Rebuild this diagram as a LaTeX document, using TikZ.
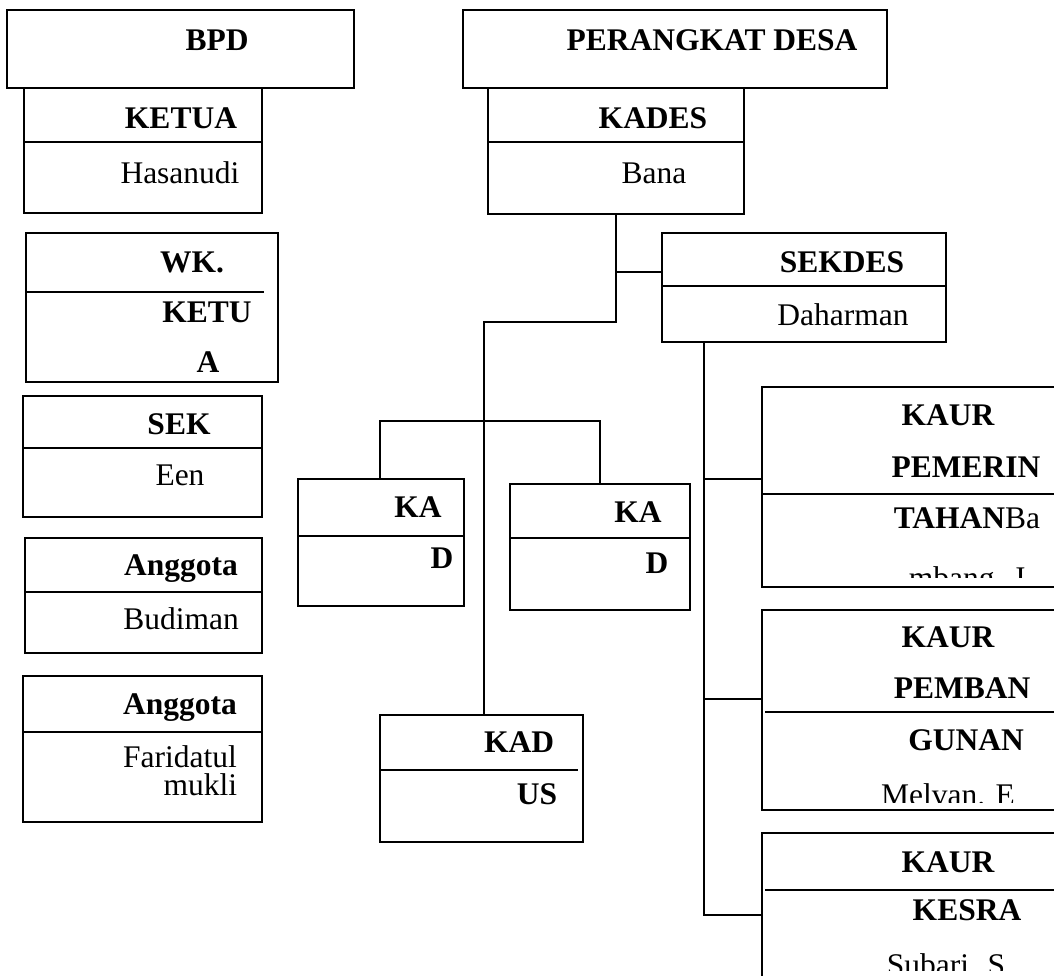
\documentclass[tikz,border=0pt]{standalone}
\usepackage{fontspec}
\setmainfont{Liberation Serif}
\begin{document}
\begin{tikzpicture}[x=1pt,y=-1pt,line width=1.8pt,
  box/.style={draw, rectangle, inner sep=0pt, outer sep=0pt, anchor=north west},
  hd/.style={anchor=base, inner sep=0pt, font=\fontsize{31.5}{38}\selectfont\bfseries},
  nm/.style={anchor=base, inner sep=0pt, font=\fontsize{31.5}{38}\selectfont},
  conn/.style={line width=1.8pt}]
\clip (0,0) rectangle (1054,975);
\fill[white] (0,0) rectangle (1054,975);

% ---------- BPD column ----------
\node[box, minimum width=347pt, minimum height=78pt] (bpd) at (7,10) {};
\node[hd] (tbpd) at (217,50) {BPD};

\node[box, minimum width=238pt, minimum height=125pt] (ketua) at (24,88) {};
\draw (ketua.west |- 0,142) -- (ketua.east |- 0,142);
\node[hd] (tketua) at (181,128) {KETUA};
\node[nm] (thas) at (180,183) {Hasanudi};

\node[box, minimum width=252pt, minimum height=149pt] (wk) at (26,233) {};
\draw (wk.west |- 0,292) -- (264,292);
\node[hd] (twk) at (192,272) {WK.};
\node[hd] (tketu) at (207,322) {KETU};
\node[hd] (ta) at (208,372) {A};

\node[box, minimum width=239pt, minimum height=121pt] (sek) at (23,396) {};
\draw (sek.west |- 0,448) -- (sek.east |- 0,448);
\node[hd] (tsek) at (179,434) {SEK};
\node[nm] (teen) at (180,485) {Een};

\node[box, minimum width=237pt, minimum height=115pt] (ang1) at (25,538) {};
\draw (24,592) -- (ang1.east |- 0,592);
\node[hd] (tang1) at (181,575) {Anggota};
\node[nm] (tbud) at (181,629) {Budiman};

\node[box, minimum width=239pt, minimum height=146pt] (ang2) at (23,676) {};
\draw (ang2.west |- 0,732) -- (ang2.east |- 0,732);
\node[hd] (tang2) at (180,714) {Anggota};
\node[nm] (tfar) at (180,767) {Faridatul};
\node[nm, anchor=base east] (tmuk) at (238,795) {mukli};

% ---------- Perangkat Desa ----------
\node[box, minimum width=424pt, minimum height=78pt] (pd) at (463,10) {};
\node[hd] (tpd) at (712,50) {PERANGKAT DESA};

\node[box, minimum width=256pt, minimum height=126pt] (kades) at (488,88) {};
\draw (kades.west |- 0,142) -- (kades.east |- 0,142);
\node[hd] (tkades) at (653,128) {KADES};
\node[nm] (tbana) at (654,183) {Bana};

\node[box, minimum width=284pt, minimum height=109pt] (sekdes) at (662,233) {};
\draw (sekdes.west |- 0,286) -- (sekdes.east |- 0,286);
\node[hd] (tsekdes) at (842,272) {SEKDES};
\node[nm] (tdah) at (843,325) {Daharman};

% KAD boxes
\node[box, minimum width=166pt, minimum height=127pt] (kad1) at (298,479) {};
\draw (kad1.west |- 0,536) -- (kad1.east |- 0,536);
\node[hd] (tka1) at (418,517) {KA};
\node[hd] (td1) at (442,568) {D};

\node[box, minimum width=180pt, minimum height=126pt] (kad2) at (510,484) {};
\draw (kad2.west |- 0,538) -- (kad2.east |- 0,538);
\node[hd] (tka2) at (638,522) {KA};
\node[hd] (td2) at (657,573) {D};

% KADUS
\node[box, minimum width=203pt, minimum height=127pt] (kadus) at (380,715) {};
\draw (kadus.west |- 0,770) -- (578,770);
\node[hd] (tkad) at (519,752) {KAD};
\node[hd] (tus) at (537,804) {US};

% KAUR boxes
\node[box, minimum width=320pt, minimum height=200pt] (kaur1) at (762,387) {};
\draw (kaur1.west |- 0,494) -- (kaur1.east |- 0,494);
\node[hd] (tk1) at (948,425) {KAUR};
\node[hd] (tpem) at (966,477) {PEMERIN};
\node[nm] (ttah) at (967,528) {\textbf{TAHAN}Ba};
\begin{scope}
  \clip (762,387) rectangle (1054,577);
  \node[nm] (tmb) at (967,588) {mbang. J};
\end{scope}

\node[box, minimum width=320pt, minimum height=200pt] (kaur2) at (762,610) {};
\draw (765,712) -- (kaur2.east |- 0,712);
\node[hd] (tk2) at (948,647) {KAUR};
\node[hd] (tpemb) at (962,698) {PEMBAN};
\node[hd] (tgun) at (966,750) {GUNAN};
\begin{scope}
  \clip (762,610) rectangle (1054,802);
  \node[nm] (tmel) at (948,805) {Melvan. E};
\end{scope}

\node[box, minimum width=320pt, minimum height=200pt] (kaur3) at (762,833) {};
\draw (765,890) -- (kaur3.east |- 0,890);
\node[hd] (tk3) at (948,872) {KAUR};
\node[hd] (tkes) at (967,920) {KESRA};
\begin{scope}
  \clip (762,833) rectangle (1054,970);
  \node[nm] (tsub) at (946,975) {Subari. S};
\end{scope}

% ---------- Connectors ----------
\coordinate (j1) at (616,322);
\coordinate (j2) at (484,322);
\coordinate (j3) at (616,272);
\draw[conn] (kades.south) -- (j1) -- (j2) -- (j2 |- kadus.north);
\draw[conn] (j3) -- (j3 -| sekdes.west);

\coordinate (j4) at (380,421);
\coordinate (j5) at (600,421);
\draw[conn] (kad1.north -| j4) -- (j4) -- (j5) -- (kad2.north -| j5);

\coordinate (s0) at (704,342);
\coordinate (b1) at (704,479);
\coordinate (b2) at (704,699);
\coordinate (b3) at (704,915);
\draw[conn] (s0 |- sekdes.south) -- (b3) -- (b3 -| kaur3.west);
\draw[conn] (b1) -- (b1 -| kaur1.west);
\draw[conn] (b2) -- (b2 -| kaur2.west);
\end{tikzpicture}
\end{document}
